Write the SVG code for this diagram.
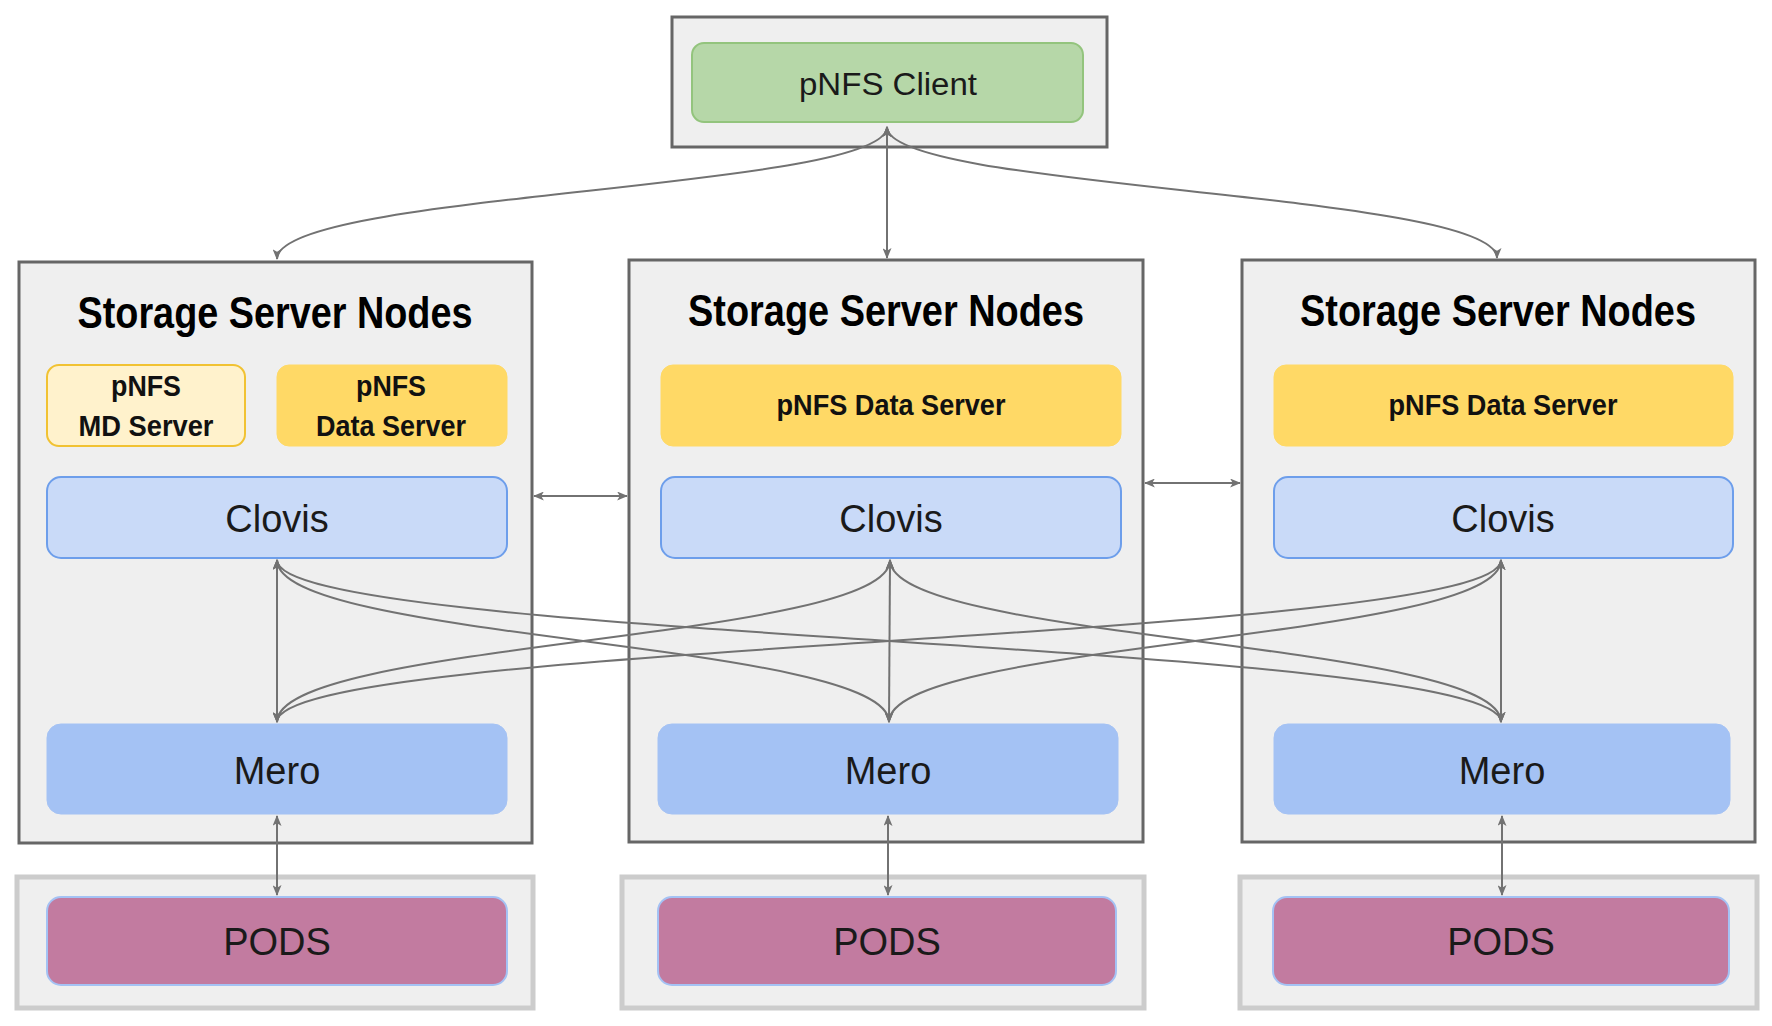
<svg xmlns="http://www.w3.org/2000/svg" width="1772" height="1026" viewBox="0 0 1772 1026">
<defs>
<style>
.outer{fill:#efefef;stroke:#666666;stroke-width:3}
.podsouter{fill:#efefef;stroke:#cccccc;stroke-width:5}
.client{fill:#b6d7a8;stroke:#93c47d;stroke-width:2}
.md{fill:#fff2cc;stroke:#f1c232;stroke-width:2}
.data{fill:#ffd966;stroke:#ffd966;stroke-width:1}
.clovis{fill:#c9daf8;stroke:#6d9eeb;stroke-width:2}
.mero{fill:#a4c2f4;stroke:#a4c2f4;stroke-width:1}
.pods{fill:#c27ba0;stroke:#a4c2f4;stroke-width:2}
.title{font-family:"Liberation Sans",Arial,sans-serif;font-weight:bold;font-size:44px;fill:#000;text-anchor:middle}
.small{font-family:"Liberation Sans",Arial,sans-serif;font-weight:bold;font-size:29px;fill:#111;text-anchor:middle}
.big{font-family:"Liberation Sans",Arial,sans-serif;font-size:38px;fill:#1a1a1a;text-anchor:middle}
.conn{fill:none;stroke:#727272;stroke-width:2;marker-start:url(#ah);marker-end:url(#ah)}
</style>
<marker id="ah" viewBox="0 0 12 10" refX="11" refY="5" markerWidth="11" markerHeight="9" markerUnits="userSpaceOnUse" orient="auto-start-reverse">
<path d="M0,0 L12,5 L0,10 L3,5 z" fill="#727272"/>
</marker>
</defs>

<g id="client-node">
<rect class="outer" x="672" y="17" width="435" height="130"/>
<rect class="client" x="692" y="43" width="391" height="79" rx="12"/>
<text class="big" x="888" y="95" style="font-size:31px" textLength="178" lengthAdjust="spacingAndGlyphs">pNFS Client</text>
</g>

<g id="storage-left">
<rect class="outer" x="19" y="262" width="513" height="581"/>
<text class="title" x="275" y="328" textLength="395" lengthAdjust="spacingAndGlyphs">Storage Server Nodes</text>
</g>
<g id="md-server-left">
<rect class="md" x="47" y="365" width="198" height="81" rx="12"/>
<text class="small" x="146" y="396" textLength="70" lengthAdjust="spacingAndGlyphs">pNFS</text>
<text class="small" x="146" y="436" textLength="135" lengthAdjust="spacingAndGlyphs">MD Server</text>
</g>
<g id="data-server-left">
<rect class="data" x="277" y="365" width="230" height="81" rx="12"/>
<text class="small" x="391" y="396" textLength="70" lengthAdjust="spacingAndGlyphs">pNFS</text>
<text class="small" x="391" y="436" textLength="150" lengthAdjust="spacingAndGlyphs">Data Server</text>
</g>
<g id="clovis-left">
<rect class="clovis" x="47" y="477" width="460" height="81" rx="14"/>
<text class="big" x="277" y="532">Clovis</text>
</g>
<g id="mero-left">
<rect class="mero" x="47" y="724" width="460" height="90" rx="14"/>
<text class="big" x="277" y="784">Mero</text>
</g>
<g id="pods-left">
<rect class="podsouter" x="17" y="877" width="516" height="131"/>
<rect class="pods" x="47" y="897" width="460" height="88" rx="14"/>
<text class="big" x="277" y="955">PODS</text>
</g>

<g id="storage-middle">
<rect class="outer" x="629" y="260" width="514" height="582"/>
<text class="title" x="886" y="326" textLength="396" lengthAdjust="spacingAndGlyphs">Storage Server Nodes</text>
</g>
<g id="data-server-middle">
<rect class="data" x="661" y="365" width="460" height="81" rx="12"/>
<text class="small" x="891" y="415" textLength="229" lengthAdjust="spacingAndGlyphs">pNFS Data Server</text>
</g>
<g id="clovis-middle">
<rect class="clovis" x="661" y="477" width="460" height="81" rx="14"/>
<text class="big" x="891" y="532">Clovis</text>
</g>
<g id="mero-middle">
<rect class="mero" x="658" y="724" width="460" height="90" rx="14"/>
<text class="big" x="888" y="784">Mero</text>
</g>
<g id="pods-middle">
<rect class="podsouter" x="622" y="877" width="522" height="131"/>
<rect class="pods" x="658" y="897" width="458" height="88" rx="14"/>
<text class="big" x="887" y="955">PODS</text>
</g>

<g id="storage-right">
<rect class="outer" x="1242" y="260" width="513" height="582"/>
<text class="title" x="1498" y="326" textLength="396" lengthAdjust="spacingAndGlyphs">Storage Server Nodes</text>
</g>
<g id="data-server-right">
<rect class="data" x="1274" y="365" width="459" height="81" rx="12"/>
<text class="small" x="1503" y="415" textLength="229" lengthAdjust="spacingAndGlyphs">pNFS Data Server</text>
</g>
<g id="clovis-right">
<rect class="clovis" x="1274" y="477" width="459" height="81" rx="14"/>
<text class="big" x="1503" y="532">Clovis</text>
</g>
<g id="mero-right">
<rect class="mero" x="1274" y="724" width="456" height="90" rx="14"/>
<text class="big" x="1502" y="784">Mero</text>
</g>
<g id="pods-right">
<rect class="podsouter" x="1240" y="877" width="517" height="131"/>
<rect class="pods" x="1273" y="897" width="456" height="88" rx="14"/>
<text class="big" x="1501" y="955">PODS</text>
</g>

<g id="connectors">
<path class="conn" d="M887,127 C887,190 277,192 277,259"/>
<path class="conn" d="M887,127 L887,258"/>
<path class="conn" d="M887,127 C887,190 1497,192 1497,258"/>
<path class="conn" d="M534,496 L627,496"/>
<path class="conn" d="M1145,483 L1240,483"/>
<path class="conn" d="M277,560 L277,722"/>
<path class="conn" d="M277,560 C277,641 889,641 889,722"/>
<path class="conn" d="M277,560 C277,641 1501,641 1501,722"/>
<path class="conn" d="M890,560 C890,641 277,641 277,722"/>
<path class="conn" d="M890,560 L889,722"/>
<path class="conn" d="M890,560 C890,641 1501,641 1501,722"/>
<path class="conn" d="M1501,560 C1501,641 277,641 277,722"/>
<path class="conn" d="M1501,560 C1501,641 889,641 889,722"/>
<path class="conn" d="M1501,560 L1501,722"/>
<path class="conn" d="M277,816 L277,895"/>
<path class="conn" d="M888,816 L888,895"/>
<path class="conn" d="M1502,816 L1502,895"/>
</g>
</svg>
